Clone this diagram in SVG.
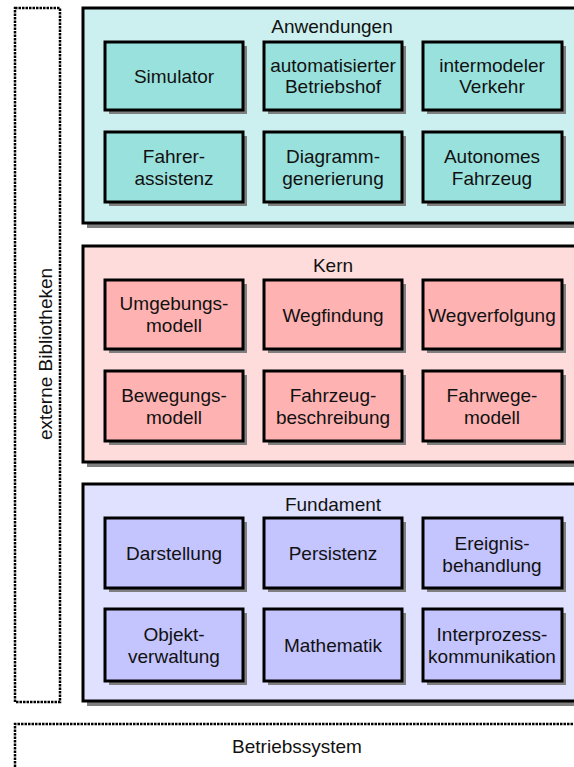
<svg xmlns="http://www.w3.org/2000/svg" width="574" height="767" viewBox="0 0 574 767">
  <style>
    text { font-family: "Liberation Sans", Arial, sans-serif; font-size: 19px; fill: #111; text-anchor: middle; }
    .shadow { fill: #7f7f7f; }
    .frame { stroke: #000; stroke-width: 3; }
    .box { stroke: #000; stroke-width: 3; }
    .dash { fill: none; stroke: #000; stroke-width: 2.5; stroke-dasharray: 2.5 1; }
    .app-bg { fill: #cbf0ef; } .app { fill: #99e1dd; }
    .core-bg { fill: #ffdcdc; } .core { fill: #ffb2b2; }
    .base-bg { fill: #e0e0ff; } .base { fill: #c4c4ff; }
  </style>

  <!-- side column: external libraries -->
  <g id="externe-bibliotheken">
    <rect class="dash" x="15" y="8" width="45" height="694"/>
    <text transform="translate(52,354) rotate(-90)">externe Bibliotheken</text>
  </g>

  <!-- operating system strip -->
  <g id="betriebssystem">
    <path class="dash" d="M15,767 V724 H580"/>
    <text x="297" y="753">Betriebssystem</text>
  </g>

  <!-- layer: applications -->
  <g id="anwendungen">
    <rect class="shadow" x="87" y="12" width="500" height="216"/>
    <rect class="frame app-bg" x="83" y="8" width="500" height="215"/>
    <text x="332" y="33">Anwendungen</text>
  </g>
  <g id="simulator">
    <rect class="shadow" x="109" y="46" width="138" height="68"/>
    <rect class="box app" x="105" y="42" width="138" height="68"/>
    <text x="174" y="83">Simulator</text>
  </g>
  <g id="betriebshof">
    <rect class="shadow" x="268" y="46" width="138" height="68"/>
    <rect class="box app" x="264" y="42" width="138" height="68"/>
    <text x="333" y="72">automatisierter</text>
    <text x="333" y="93">Betriebshof</text>
  </g>
  <g id="verkehr">
    <rect class="shadow" x="427" y="46" width="139" height="68"/>
    <rect class="box app" x="423" y="42" width="139" height="68"/>
    <text x="492" y="72">intermodeler</text>
    <text x="492" y="93">Verkehr</text>
  </g>
  <g id="fahrerassistenz">
    <rect class="shadow" x="109" y="136" width="138" height="70"/>
    <rect class="box app" x="105" y="132" width="138" height="70"/>
    <text x="174" y="163">Fahrer-</text>
    <text x="174" y="185">assistenz</text>
  </g>
  <g id="diagrammgenerierung">
    <rect class="shadow" x="268" y="136" width="138" height="70"/>
    <rect class="box app" x="264" y="132" width="138" height="70"/>
    <text x="333" y="163">Diagramm-</text>
    <text x="333" y="185">generierung</text>
  </g>
  <g id="autonomes-fahrzeug">
    <rect class="shadow" x="427" y="136" width="139" height="70"/>
    <rect class="box app" x="423" y="132" width="139" height="70"/>
    <text x="492" y="163">Autonomes</text>
    <text x="492" y="185">Fahrzeug</text>
  </g>

  <!-- layer: core -->
  <g id="kern">
    <rect class="shadow" x="87" y="250" width="500" height="217"/>
    <rect class="frame core-bg" x="83" y="246" width="500" height="216"/>
    <text x="333" y="272">Kern</text>
  </g>
  <g id="umgebungsmodell">
    <rect class="shadow" x="109" y="284" width="138" height="69"/>
    <rect class="box core" x="105" y="280" width="138" height="69"/>
    <text x="174" y="310">Umgebungs-</text>
    <text x="174" y="332">modell</text>
  </g>
  <g id="wegfindung">
    <rect class="shadow" x="268" y="284" width="138" height="69"/>
    <rect class="box core" x="264" y="280" width="138" height="69"/>
    <text x="333" y="322">Wegfindung</text>
  </g>
  <g id="wegverfolgung">
    <rect class="shadow" x="427" y="284" width="139" height="69"/>
    <rect class="box core" x="423" y="280" width="139" height="69"/>
    <text x="492" y="322">Wegverfolgung</text>
  </g>
  <g id="bewegungsmodell">
    <rect class="shadow" x="109" y="375" width="138" height="70"/>
    <rect class="box core" x="105" y="371" width="138" height="70"/>
    <text x="174" y="402">Bewegungs-</text>
    <text x="174" y="424">modell</text>
  </g>
  <g id="fahrzeugbeschreibung">
    <rect class="shadow" x="268" y="375" width="138" height="70"/>
    <rect class="box core" x="264" y="371" width="138" height="70"/>
    <text x="333" y="402">Fahrzeug-</text>
    <text x="333" y="424">beschreibung</text>
  </g>
  <g id="fahrwegemodell">
    <rect class="shadow" x="427" y="375" width="139" height="70"/>
    <rect class="box core" x="423" y="371" width="139" height="70"/>
    <text x="492" y="402">Fahrwege-</text>
    <text x="492" y="424">modell</text>
  </g>

  <!-- layer: foundation -->
  <g id="fundament">
    <rect class="shadow" x="87" y="488" width="500" height="218"/>
    <rect class="frame base-bg" x="83" y="484" width="500" height="217"/>
    <text x="333" y="511">Fundament</text>
  </g>
  <g id="darstellung">
    <rect class="shadow" x="109" y="522" width="138" height="70"/>
    <rect class="box base" x="105" y="518" width="138" height="70"/>
    <text x="174" y="560">Darstellung</text>
  </g>
  <g id="persistenz">
    <rect class="shadow" x="268" y="522" width="138" height="70"/>
    <rect class="box base" x="264" y="518" width="138" height="70"/>
    <text x="333" y="560">Persistenz</text>
  </g>
  <g id="ereignisbehandlung">
    <rect class="shadow" x="427" y="522" width="139" height="70"/>
    <rect class="box base" x="423" y="518" width="139" height="70"/>
    <text x="492" y="550">Ereignis-</text>
    <text x="492" y="572">behandlung</text>
  </g>
  <g id="objektverwaltung">
    <rect class="shadow" x="109" y="613" width="138" height="72"/>
    <rect class="box base" x="105" y="609" width="138" height="72"/>
    <text x="174" y="641">Objekt-</text>
    <text x="174" y="663">verwaltung</text>
  </g>
  <g id="mathematik">
    <rect class="shadow" x="268" y="613" width="138" height="72"/>
    <rect class="box base" x="264" y="609" width="138" height="72"/>
    <text x="333" y="652">Mathematik</text>
  </g>
  <g id="interprozesskommunikation">
    <rect class="shadow" x="427" y="613" width="139" height="72"/>
    <rect class="box base" x="423" y="609" width="139" height="72"/>
    <text x="492" y="641">Interprozess-</text>
    <text x="492" y="663">kommunikation</text>
  </g>

  <!-- no connectors in this diagram -->
  <g id="connectors"/>
</svg>
